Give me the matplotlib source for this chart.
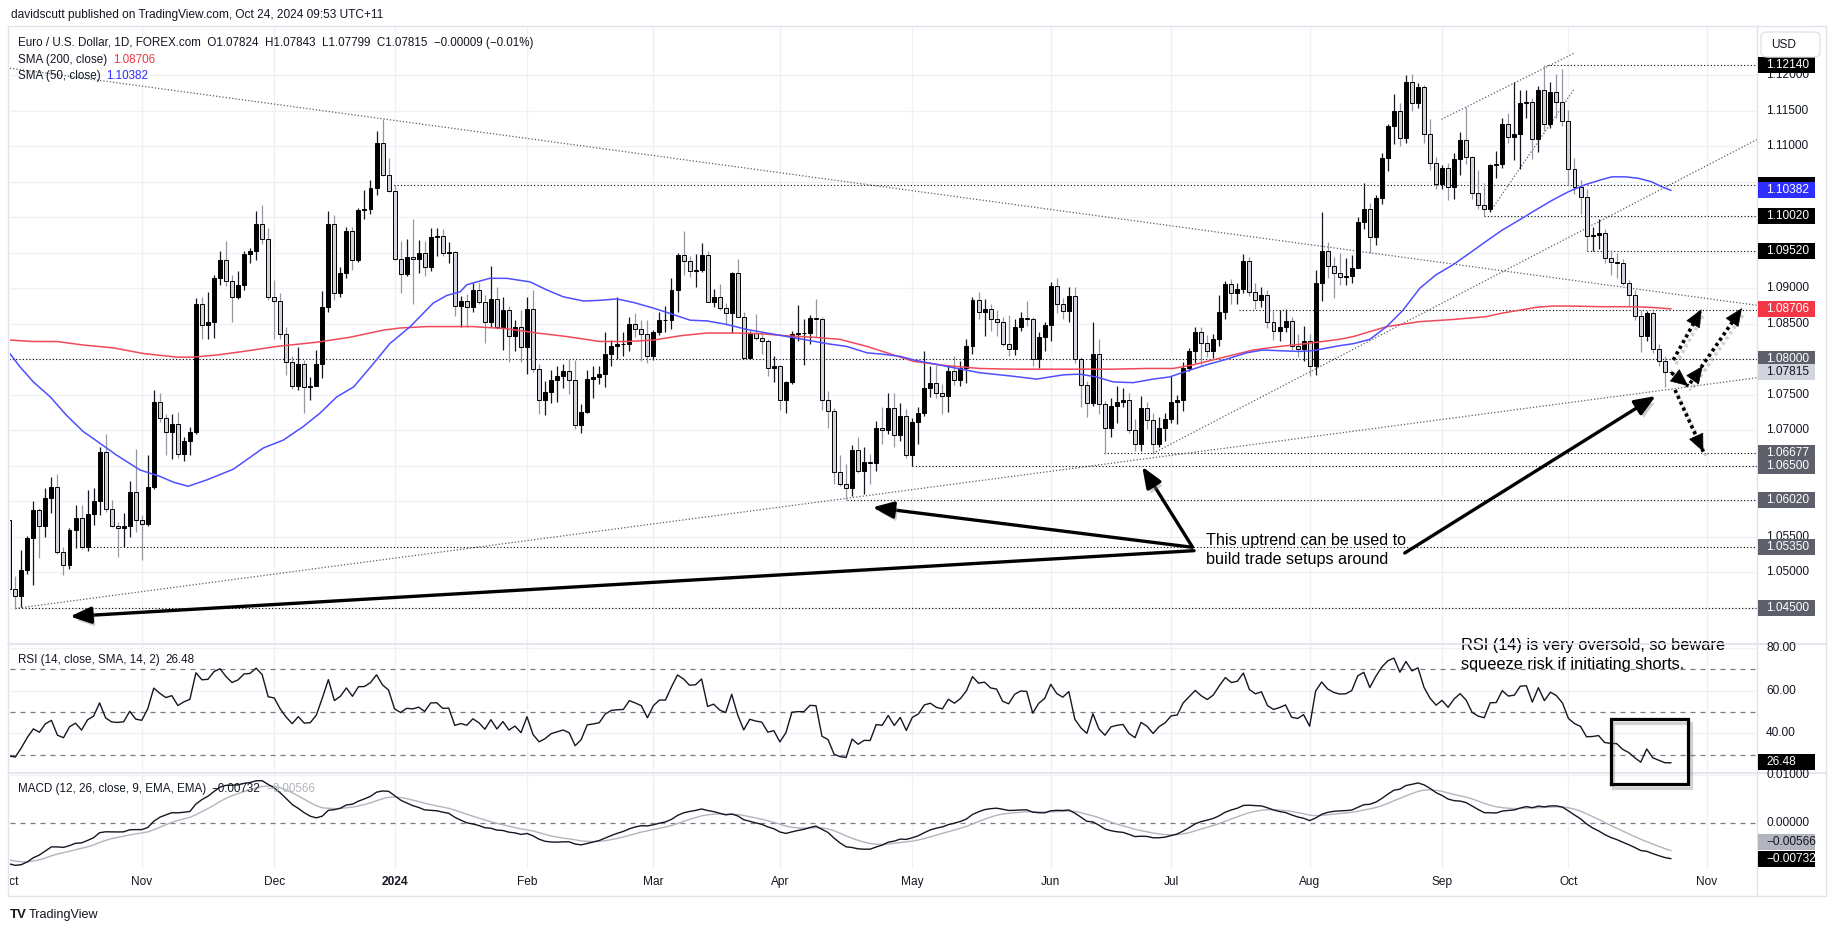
import numpy as np
import pandas as pd
import matplotlib
matplotlib.use("Agg")
import matplotlib.pyplot as plt
from matplotlib.patches import Rectangle, FancyBboxPatch
from matplotlib.lines import Line2D
from matplotlib import patheffects as pe
from matplotlib import transforms as mtrans

plt.rcParams['font.family'] = ['Liberation Sans', 'DejaVu Sans']

# ------------------------------------------------------------------ data
FIRST_DAY = '2023-10-02'
HOLIDAYS = ['2023-12-25', '2024-01-01']

OPEN = [
 1.0573,1.0476,1.0466,1.0503,1.0548,1.0587,1.0565,1.0604,1.0620,1.0528,1.0510,1.0559,1.0576,1.0535,1.0582,1.0600,1.0669,1.0589,1.0565,1.0562,1.0565,1.0613,
 1.0574,1.0568,1.0620,1.0740,1.0717,1.0698,1.0709,1.0666,1.0685,1.0698,1.0878,1.0848,1.0852,1.0914,1.0940,1.0910,1.0887,1.0905,1.0948,1.0952,1.0991,1.0970,
 1.0887,1.0882,1.0835,1.0796,1.0763,1.0793,1.0761,1.0763,1.0793,1.0873,1.0991,1.0893,1.0922,1.0981,1.0940,1.1010,1.1012,1.1041,1.1104,1.1060,
 1.1037,1.0941,1.0920,1.0944,1.0941,1.0950,1.0930,1.0972,1.0973,1.0950,1.0951,1.0875,1.0882,1.0874,1.0897,1.0881,1.0853,1.0885,1.0845,1.0870,1.0833,1.0846,
 1.0817,1.0871,1.0786,1.0743,1.0754,1.0771,1.0777,1.0783,1.0771,1.0707,1.0725,1.0772,1.0775,1.0779,1.0807,1.0819,1.0821,1.0822,1.0849,1.0843,1.0836,
 1.0804,1.0838,1.0855,1.0855,1.0898,1.0947,1.0938,1.0924,1.0926,1.0947,1.0881,1.0888,1.0872,1.0865,1.0922,1.0860,1.0802,1.0837,1.0830,1.0826,1.0787,
 1.0791,1.0743,1.0768,1.0835,1.0837,1.0837,1.0858,1.0857,1.0743,1.0727,1.0641,1.0624,1.0618,1.0672,1.0643,1.0655,1.0654,1.0703,1.0700,1.0732,1.0693,1.0720,
 1.0665,1.0711,1.0724,1.0760,1.0767,1.0753,1.0748,1.0783,1.0771,1.0788,1.0818,1.0884,1.0866,1.0871,1.0856,1.0853,1.0821,1.0814,1.0846,1.0858,1.0857,1.0800,1.0831,
 1.0848,1.0903,1.0878,1.0868,1.0889,1.0800,1.0764,1.0739,1.0808,1.0737,1.0703,1.0734,1.0740,1.0743,1.0701,1.0680,1.0732,1.0714,1.0680,1.0703,
 1.0716,1.0740,1.0743,1.0787,1.0812,1.0839,1.0823,1.0812,1.0829,1.0867,1.0906,1.0893,1.0899,1.0938,1.0895,1.0883,1.0891,1.0852,1.0840,1.0846,1.0854,1.0819,1.0815,
 1.0825,1.0791,1.0908,1.0952,1.0931,1.0921,1.0916,1.0917,1.0929,1.0993,1.1011,1.0972,1.1027,1.1084,1.1129,1.1150,1.1111,1.1190,1.1161,1.1183,1.1118,1.1076,
 1.1047,1.1070,1.1042,1.1082,1.1109,1.1085,1.1034,1.1018,1.1011,1.1074,1.1075,1.1132,1.1113,1.1117,1.1161,1.1163,1.1110,1.1180,1.1132,1.1176,1.1163,
 1.1135,1.1068,1.1043,1.1029,1.0974,1.0975,1.0978,1.0942,1.0937,1.0936,1.0907,1.0890,1.0861,1.0833,1.0865,1.0814,1.0798,1.07824]

HIGH = [
 1.0577,1.0494,1.0531,1.0551,1.0600,1.0590,1.0618,1.0634,1.0639,1.0535,1.0562,1.0595,1.0595,1.0616,1.0618,1.0677,1.0694,1.0602,1.0570,1.0583,1.0628,1.0673,
 1.0580,1.0665,1.0757,1.0753,1.0723,1.0723,1.0725,1.0690,1.0705,1.0886,1.0888,1.0895,1.0918,1.0952,1.0966,1.0918,1.0925,1.0952,1.0957,1.1009,1.1017,1.0985,
 1.0912,1.0893,1.0845,1.0805,1.0817,1.0799,1.0775,1.0813,1.0896,1.1009,1.1003,1.0930,1.0987,1.0987,1.1013,1.1039,1.1053,1.1122,1.1139,1.1084,
 1.1046,1.0966,1.0969,1.0997,1.0968,1.0966,1.0985,1.0985,1.0983,1.0965,1.0953,1.0889,1.0892,1.0908,1.0908,1.0890,1.0931,1.0902,1.0887,1.0875,1.0855,1.0870,
 1.0888,1.0897,1.0793,1.0769,1.0785,1.0790,1.0793,1.0800,1.0799,1.0737,1.0785,1.0790,1.0790,1.0838,1.0827,1.0887,1.0838,1.0860,1.0865,1.0855,1.0855,
 1.0841,1.0867,1.0875,1.0914,1.0949,1.0981,1.0945,1.0948,1.0964,1.0953,1.0899,1.0906,1.0879,1.0923,1.0941,1.0867,1.0840,1.0864,1.0839,1.0829,1.0805,
 1.0792,1.0769,1.0840,1.0876,1.0856,1.0862,1.0885,1.0859,1.0755,1.0731,1.0665,1.0653,1.0679,1.0690,1.0676,1.0667,1.0713,1.0733,1.0753,1.0753,1.0738,1.0730,
 1.0717,1.0733,1.0812,1.0790,1.0792,1.0765,1.0790,1.0805,1.0798,1.0828,1.0887,1.0895,1.0885,1.0878,1.0869,1.0859,1.0863,1.0857,1.0867,1.0882,1.0860,1.0838,1.0852,
 1.0909,1.0915,1.0886,1.0902,1.0902,1.0803,1.0770,1.0852,1.0828,1.0741,1.0746,1.0762,1.0760,1.0753,1.0716,1.0748,1.0740,1.0724,1.0718,1.0724,
 1.0776,1.0750,1.0796,1.0816,1.0845,1.0846,1.0834,1.0836,1.0890,1.0910,1.0913,1.0907,1.0948,1.0944,1.0907,1.0902,1.0897,1.0870,1.0869,1.0871,1.0860,1.0835,1.0847,
 1.0835,1.0926,1.1008,1.0965,1.0944,1.0949,1.0942,1.0947,1.1000,1.1048,1.1020,1.1032,1.1090,1.1131,1.1173,1.1161,1.1201,1.1202,1.1189,1.1186,1.1139,1.1085,
 1.1073,1.1076,1.1090,1.1120,1.1155,1.1087,1.1066,1.1048,1.1075,1.1093,1.1140,1.1147,1.1190,1.1180,1.1180,1.1168,1.1185,1.1214,1.1191,1.1202,1.1209,
 1.1151,1.1083,1.1053,1.1040,1.0987,1.0998,1.0984,1.0954,1.0950,1.0941,1.0912,1.0898,1.0869,1.0868,1.0868,1.0822,1.0805,1.07843]

LOW = [
 1.0469,1.0448,1.0451,1.0497,1.0482,1.0520,1.0550,1.0583,1.0525,1.0496,1.0505,1.0534,1.0533,1.0530,1.0567,1.0581,1.0585,1.0564,1.0522,1.0536,1.0550,1.0557,
 1.0517,1.0565,1.0617,1.0712,1.0665,1.0660,1.0661,1.0656,1.0665,1.0695,1.0828,1.0828,1.0830,1.0905,1.0903,1.0852,1.0885,1.0898,1.0935,1.0940,1.0963,1.0884,
 1.0828,1.0829,1.0778,1.0758,1.0757,1.0724,1.0743,1.0762,1.0773,1.0866,1.0883,1.0888,1.0915,1.0926,1.0937,1.0998,1.1005,1.1032,1.1058,1.1035,
 1.0940,1.0893,1.0917,1.0878,1.0922,1.0917,1.0925,1.0946,1.0946,1.0935,1.0861,1.0846,1.0846,1.0866,1.0878,1.0823,1.0846,1.0843,1.0813,1.0796,1.0811,1.0796,
 1.0779,1.0782,1.0723,1.0722,1.0738,1.0740,1.0759,1.0751,1.0702,1.0696,1.0724,1.0745,1.0765,1.0761,1.0790,1.0801,1.0804,1.0812,1.0831,1.0797,1.0795,
 1.0799,1.0834,1.0838,1.0842,1.0867,1.0918,1.0916,1.0902,1.0923,1.0880,1.0874,1.0869,1.0848,1.0837,1.0859,1.0800,1.0800,1.0827,1.0808,1.0776,1.0768,
 1.0729,1.0724,1.0765,1.0825,1.0792,1.0822,1.0832,1.0729,1.0703,1.0624,1.0622,1.0602,1.0607,1.0640,1.0610,1.0624,1.0642,1.0680,1.0695,1.0676,1.0685,1.0661,
 1.0650,1.0680,1.0720,1.0747,1.0746,1.0723,1.0725,1.0764,1.0763,1.0766,1.0808,1.0856,1.0833,1.0840,1.0833,1.0818,1.0805,1.0806,1.0840,1.0847,1.0790,1.0788,1.0811,
 1.0826,1.0865,1.0856,1.0853,1.0795,1.0733,1.0718,1.0734,1.0723,1.0667,1.0690,1.0710,1.0733,1.0696,1.0671,1.0671,1.0702,1.0667,1.0676,1.0685,
 1.0710,1.0709,1.0727,1.0783,1.0795,1.0792,1.0803,1.0802,1.0818,1.0856,1.0878,1.0878,1.0893,1.0889,1.0871,1.0874,1.0844,1.0827,1.0826,1.0838,1.0813,1.0803,1.0798,
 1.0777,1.0778,1.0882,1.0914,1.0886,1.0904,1.0904,1.0907,1.0928,1.0983,1.0950,1.0961,1.1019,1.1065,1.1103,1.1100,1.1105,1.1150,1.1154,1.1104,1.1066,1.1040,
 1.1040,1.1025,1.1026,1.1060,1.1075,1.1026,1.1012,1.1002,1.1007,1.1055,1.1070,1.1105,1.1080,1.1068,1.1140,1.1082,1.1092,1.1121,1.1126,1.1140,1.1128,
 1.1046,1.1033,1.1005,1.0952,1.0952,1.0956,1.0935,1.0918,1.0915,1.0904,1.0874,1.0855,1.0810,1.0825,1.0809,1.0791,1.0761,1.07799]

CLOSE = [
 1.0476,1.0466,1.0503,1.0548,1.0587,1.0565,1.0604,1.0620,1.0528,1.0510,1.0559,1.0576,1.0535,1.0582,1.0600,1.0669,1.0589,1.0565,1.0562,1.0565,1.0613,1.0574,
 1.0568,1.0620,1.0740,1.0717,1.0698,1.0709,1.0666,1.0685,1.0698,1.0878,1.0848,1.0852,1.0914,1.0940,1.0910,1.0887,1.0905,1.0948,1.0952,1.0991,1.0970,1.0887,
 1.0882,1.0835,1.0796,1.0763,1.0793,1.0761,1.0763,1.0793,1.0873,1.0991,1.0893,1.0922,1.0981,1.0940,1.1010,1.1012,1.1041,1.1104,1.1060,1.1037,
 1.0941,1.0920,1.0944,1.0941,1.0950,1.0930,1.0972,1.0973,1.0950,1.0951,1.0875,1.0882,1.0874,1.0897,1.0881,1.0853,1.0885,1.0845,1.0870,1.0833,1.0846,1.0817,
 1.0871,1.0786,1.0743,1.0754,1.0771,1.0777,1.0783,1.0771,1.0707,1.0725,1.0772,1.0775,1.0779,1.0807,1.0819,1.0821,1.0822,1.0849,1.0843,1.0836,1.0804,
 1.0838,1.0855,1.0855,1.0898,1.0947,1.0938,1.0924,1.0926,1.0947,1.0881,1.0888,1.0872,1.0865,1.0922,1.0860,1.0802,1.0837,1.0830,1.0826,1.0787,1.0791,
 1.0743,1.0768,1.0835,1.0837,1.0837,1.0858,1.0857,1.0743,1.0727,1.0641,1.0624,1.0618,1.0672,1.0643,1.0655,1.0654,1.0703,1.0700,1.0732,1.0693,1.0720,1.0665,
 1.0711,1.0724,1.0760,1.0767,1.0753,1.0748,1.0783,1.0771,1.0788,1.0818,1.0884,1.0866,1.0871,1.0856,1.0853,1.0821,1.0814,1.0846,1.0858,1.0857,1.0800,1.0831,1.0848,
 1.0903,1.0878,1.0868,1.0889,1.0800,1.0764,1.0739,1.0808,1.0737,1.0703,1.0734,1.0740,1.0743,1.0701,1.0680,1.0732,1.0714,1.0680,1.0703,1.0716,
 1.0740,1.0743,1.0787,1.0812,1.0839,1.0823,1.0812,1.0829,1.0867,1.0906,1.0893,1.0899,1.0938,1.0895,1.0883,1.0891,1.0852,1.0840,1.0846,1.0854,1.0819,1.0815,1.0825,
 1.0791,1.0908,1.0952,1.0931,1.0921,1.0916,1.0917,1.0929,1.0993,1.1011,1.0972,1.1027,1.1084,1.1129,1.1150,1.1111,1.1190,1.1161,1.1183,1.1118,1.1076,1.1047,
 1.1070,1.1042,1.1082,1.1109,1.1085,1.1034,1.1018,1.1011,1.1074,1.1075,1.1132,1.1113,1.1117,1.1161,1.1163,1.1110,1.1180,1.1132,1.1176,1.1163,1.1135,
 1.1068,1.1043,1.1029,1.0974,1.0975,1.0978,1.0942,1.0937,1.0936,1.0907,1.0890,1.0861,1.0833,1.0865,1.0814,1.0798,1.0782,1.07815]

# moving averages (bar index, value)
SMA50_AT = [0.1,1.8,4.0,6.8,9.5,12.3,14.0,17.8,21.7,25.0,27.2,29.7,32.8,37.2,42.2,45.5,48.8,51.6,54.4,57.2,60.5,63.2,66.6,70.4,72.7,
            74.9,76.0,79.8,82.6,86.5,89.2,92.0,95.4,98.1,100.9,103.7,107.0,110.3,113.1,115.9,119.2,122.5,125.8,129.2,132.5,135.8,139.1,142.5,145.2,148.0,
            150.2,155.7,161.2,166.8,170.6,175.1,177.8,180.6,183.4,186.7,190.0,192.7,195.5,198.8,202.2,205.5,208.2,211.0,214.3,216.5,220.9,223.3,226.0,228.8,231.5,
            234.3,237.0,239.8,242.5,245.3,248.0,250.8,253.5,256.3,259.0,261.8,264.5,266.2,268.4,270.6,272.8,274.5,276.0]
SMA50 = [1.0808,1.0789,1.0768,1.0747,1.0721,1.0698,1.0688,1.0665,1.0644,1.0635,1.0627,1.0621,1.0630,1.0645,1.0675,1.0686,1.0705,1.0724,1.0747,1.0761,1.0794,1.0822,1.0846,1.0879,1.0890,
         1.0895,1.0905,1.0914,1.0914,1.0909,1.0898,1.0888,1.0882,1.0883,1.0885,1.0880,1.0872,1.0863,1.0855,1.0854,1.0849,1.0842,1.0837,1.0832,1.0827,1.0822,1.0818,1.0809,1.0807,1.0804,
         1.0799,1.0790,1.0781,1.0776,1.0772,1.0778,1.0779,1.0775,1.0768,1.0767,1.0772,1.0775,1.0783,1.0792,1.0800,1.0809,1.0813,1.0812,1.0811,1.0812,1.0819,1.0822,1.0828,1.0846,1.0869,
         1.0900,1.0919,1.0933,1.0949,1.0966,1.0982,1.0996,1.1010,1.1024,1.1036,1.1046,1.1053,1.1057,1.1057,1.1055,1.1050,1.1043,1.1038]
SMA200_AT = [0.1,4.0,7.9,12.3,17.3,22.3,27.8,30.6,34.5,38.9,44.4,51.1,56.6,62.1,64.9,69.3,74.9,77.0,82.6,87.6,92.6,98.1,102.6,107.0,111.4,
             115.9,120.3,124.7,129.2,133.6,138.0,142.5,145.8,150.2,155.7,161.2,166.8,172.3,177.8,183.4,188.9,193.3,196.6,199.9,203.3,206.6,211.0,215.4,220.9,223.3,
             228.8,234.3,239.8,245.3,248.0,250.8,253.5,256.3,259.0,264.5,270.1,272.8,276.0]
SMA200 = [1.0827,1.0825,1.0825,1.0820,1.0816,1.0808,1.0803,1.0803,1.0806,1.0811,1.0818,1.0824,1.0831,1.0841,1.0844,1.0846,1.0846,1.0846,1.0843,1.0837,1.0832,1.0825,1.0825,1.0827,1.0833,
          1.0837,1.0837,1.0836,1.0833,1.0831,1.0828,1.0818,1.0809,1.0797,1.0791,1.0787,1.0786,1.0786,1.0786,1.0786,1.0787,1.0787,1.0792,1.0799,1.0806,1.0813,1.0818,1.0822,1.0828,1.0832,
          1.0846,1.0853,1.0856,1.0860,1.0865,1.0869,1.0873,1.0875,1.0875,1.0874,1.0874,1.0873,1.0871]

RSI_SEED_GAIN, RSI_SEED_LOSS = 0.00137, 0.0033
EMA12_SEED, EMA26_SEED, SIGNAL_SEED = 1.0583, 1.0667, -0.0076

# labels / levels
MONTH_LABELS = ['Oct', 'Nov', 'Dec', '2024', 'Feb', 'Mar', 'Apr', 'May', 'Jun', 'Jul', 'Aug', 'Sep', 'Oct', 'Nov']
PRICE_TICKS = [1.045, 1.050, 1.055, 1.060, 1.065, 1.070, 1.075, 1.080, 1.085, 1.090, 1.095,
               1.100, 1.105, 1.110, 1.115, 1.120]
RSI_TICKS = [40, 60, 80]
MACD_TICKS = [0.0, 0.01]
LEVELS = [1.1214, 1.1045, 1.1002, 1.0952, 1.0870, 1.0800, 1.06677, 1.0650, 1.0602, 1.0535, 1.0450]
LEVEL_FROM = [255.4, 62.7, 245.0, 262.0, 204.2, 0.0, 181.9, 150.0, 139.1, 11.8, 1.0]
BOX_VALUES = [1.1214, 1.1045, 1.10382, 1.1002, 1.0952, 1.08706, 1.0800, 1.07815, 1.06677, 1.0650, 1.0602, 1.0535, 1.0450]
BOX_TEXT = ['1.12140', '', '1.10382', '1.10020', '1.09520', '1.08706', '1.08000', '1.07815',
            '1.06677', '1.06500', '1.06020', '1.05350', '1.04500']
BOX_KIND = ['k', 'k', 'blue', 'k', 'k', 'red', 'g', 'last', 'g', 'g', 'g', 'g', 'g']
RSI_LAST, MACD_LAST, SIGNAL_LAST = 26.48, -0.00732, -0.00566

# drawings (bar index, price)
TREND_LINES = [((0.1, 1.1210), (290.3, 1.0876)),
               ((1.0, 1.0449), (290.3, 1.07739)),
               ((190.0, 1.06675), (290.3, 1.11095)),
               ((237.9, 1.1138), (259.9, 1.1231)),
               ((246.0, 1.1008), (259.9, 1.1180))]
SOLID_ARROWS = [((196.5, 1.05351), (143.4, 1.05914)),
                ((196.5, 1.05360), (188.2, 1.06486)),
                ((196.8, 1.05303), (10.1, 1.04376)),
                ((231.8, 1.05270), (273.5, 1.07482))]
DOTTED_ARROWS = [((276.1, 1.07810), (278.9, 1.07623)),
                 ((276.4, 1.07989), (281.1, 1.08704)),
                 ((279.2, 1.07661), (287.8, 1.08718)),
                 ((276.7, 1.07567), (281.4, 1.06697))]
DOTTED_MID_HEADS = [((279.2, 1.07661), (281.3, 1.07905))]
NOTE_MAIN = ['This uptrend can be used to', 'build trade setups around']
NOTE_MAIN_POS = [(198.8, 1.05441), (198.8, 1.05174)]
NOTE_RSI = ['RSI (14) is very oversold, so beware', 'squeeze risk if initiating shorts.']
NOTE_RSI_POS = [(241.1, 81.0), (241.1, 72.1)]
RSI_BOX = (266.0, 16.2, 278.9, 46.6)

# ------------------------------------------------------------------ checks
if len({len(OPEN), len(HIGH), len(LOW), len(CLOSE)}) != 1:
    raise SystemExit(f"length mismatch {len(OPEN)} {len(HIGH)} {len(LOW)} {len(CLOSE)}")

O = np.array(OPEN); Hh = np.array(HIGH); Lw = np.array(LOW); C = np.array(CLOSE)
n = len(C)
idx = np.arange(n)

days = pd.bdate_range(FIRST_DAY, periods=300)
days = days[~days.isin(pd.to_datetime(HOLIDAYS))]
month_start = [k for k in range(len(days)) if k == 0 or days[k].month != days[k - 1].month]

# indicators
ag, al = RSI_SEED_GAIN, RSI_SEED_LOSS
e12, e26, sg = EMA12_SEED, EMA26_SEED, SIGNAL_SEED
rsi, macd, sig = [], [], []
for k in range(n):
    if k > 0:
        ch = C[k] - C[k - 1]
        ag = (ag * 13 + max(ch, 0)) / 14
        al = (al * 13 + max(-ch, 0)) / 14
        e12 += (C[k] - e12) * 2 / 13
        e26 += (C[k] - e26) * 2 / 27
        sg += ((e12 - e26) - sg) * 2 / 10
    rsi.append(100 - 100 / (1 + ag / al))
    macd.append(e12 - e26)
    sig.append(sg)

# ------------------------------------------------------------------ layout (pixels)
W, Hpx = 1835, 931
PL, PR = 10, 1757
MAIN_T, MAIN_B = 26, 643
RSI_T, RSI_B = 644, 773
MACD_T, MACD_B = 773, 869
AX_B = 896
X0, DX = 9.3, 6.02
P_REF, P_REF_Y, P_SCALE = 1.11, 146.3, 7098.0
R_REF, R_REF_Y, R_SCALE = 70.0, 669.4, 2.13
M_REF_Y, M_SCALE = 823.3, 4830.0

XLIM = ((PL - X0) / DX, (PR - X0) / DX)
MAIN_YLIM = (P_REF - (MAIN_B - P_REF_Y) / P_SCALE, P_REF + (P_REF_Y - MAIN_T) / P_SCALE)
RSI_YLIM = (R_REF - (RSI_B - R_REF_Y) / R_SCALE, R_REF + (R_REF_Y - RSI_T) / R_SCALE)
MACD_YLIM = (-(MACD_B - M_REF_Y) / M_SCALE, (M_REF_Y - MACD_T) / M_SCALE)

TXT = '#131722'
GRID = '#eff1f5'
fig = plt.figure(figsize=(W / 100, Hpx / 100), dpi=100, facecolor='white')
R = fig.canvas.get_renderer()


def px_ax(t, b):
    a = fig.add_axes([PL / W, 1 - b / Hpx, (PR - PL) / W, (b - t) / Hpx])
    a.set_axis_off()
    a.set_xlim(*XLIM)
    return a


ax = px_ax(MAIN_T, MAIN_B); ax.set_ylim(*MAIN_YLIM)
rax = px_ax(RSI_T, RSI_B); rax.set_ylim(*RSI_YLIM)
max_ = px_ax(MACD_T, MACD_B); max_.set_ylim(*MACD_YLIM)
tax = px_ax(MACD_B, AX_B); tax.set_ylim(0, 1)


def fig_line(xs, ys, **kw):
    fig.add_artist(Line2D([x / W for x in xs], [1 - y / Hpx for y in ys], transform=fig.transFigure, **kw))


def ptxt(x, y, s, **kw):
    return fig.text(x / W, 1 - y / Hpx, s, **kw)


def text_w(s, fs, **kw):
    t = fig.text(0, 0, s, fontsize=fs, **kw)
    w = t.get_window_extent(R).width
    t.remove()
    return w


def fit(s, target, **kw):
    return 10.0 * target / text_w(s, 10.0, **kw)


# frame
fig_line([8, 1826, 1826, 8, 8], [26, 26, AX_B, AX_B, 26], color='#e0e3eb', lw=1)
fig_line([PR, PR], [26, AX_B], color='#e0e3eb', lw=1)
fig_line([8, 1826], [643.5, 643.5], color='#e0e3eb', lw=1.2)
fig_line([8, 1826], [773, 773], color='#e0e3eb', lw=1.2)

# grids
for a in (ax, rax, max_):
    for k in month_start:
        a.axvline(k, color=GRID, lw=1, zorder=0.5)
for p in PRICE_TICKS:
    ax.axhline(p, color=GRID, lw=1, zorder=0.5)
for v in RSI_TICKS:
    rax.axhline(v, color=GRID, lw=1, zorder=0.5)
max_.axhline(0.01, color=GRID, lw=1, zorder=0.5)

# levels
for lv, st in zip(LEVELS, LEVEL_FROM):
    ax.plot([st, XLIM[1]], [lv, lv], color='black', lw=0.8, linestyle=(0, (1, 2)), zorder=1.5)
# trend lines
for (a0, a1) in TREND_LINES:
    ax.plot([a0[0], a1[0]], [a0[1], a1[1]], color='#5a5e69', lw=0.9, linestyle=(0, (1, 1.6)), zorder=1.6)

# candles
up = C >= O
bot = np.minimum(O, C)
hgt = np.maximum(np.abs(C - O), 0.00002)
ax.vlines(idx[up], Lw[up], Hh[up], color='#131722', lw=0.9, zorder=3)
ax.vlines(idx[~up], Lw[~up], Hh[~up], color='#9598a1', lw=0.9, zorder=3)
ax.bar(idx[up], hgt[up], bottom=bot[up], width=0.66, color='#000000', edgecolor='#000000', lw=0.7, zorder=4)
ax.bar(idx[~up], hgt[~up], bottom=bot[~up], width=0.66, color='#d1d4dc', edgecolor='#000000', lw=0.7, zorder=4)

# moving averages
ax.plot(SMA200_AT, SMA200, color='#f04a5a', lw=1.1, zorder=5)
ax.plot(SMA50_AT, SMA50, color='#4f4fff', lw=1.1, zorder=5)

# arrows
pshadow = [pe.SimplePatchShadow(offset=(2, -3), shadow_rgbFace='#808080', alpha=0.4), pe.Normal()]
lshadow = [pe.SimpleLineShadow(offset=(2, -3), shadow_color='#808080', alpha=0.35), pe.Normal()]
for (t0, t1) in SOLID_ARROWS:
    ax.annotate('', xy=t1, xytext=t0, annotation_clip=False,
                arrowprops=dict(arrowstyle='-|>,head_length=0.9,head_width=0.36', color='black', lw=2.4,
                                mutation_scale=14, shrinkA=0, shrinkB=0, path_effects=pshadow), zorder=12)


def head(a0, a1):
    xt = (a1[0] - 0.05 * (a1[0] - a0[0]), a1[1] - 0.05 * (a1[1] - a0[1]))
    ax.annotate('', xy=a1, xytext=xt, annotation_clip=False,
                arrowprops=dict(arrowstyle='-|>,head_length=0.9,head_width=0.4', color='black', lw=0.5,
                                mutation_scale=13, shrinkA=0, shrinkB=0), zorder=13)


for (a0, a1) in DOTTED_ARROWS:
    ax.plot([a0[0], a1[0]], [a0[1], a1[1]], color='black', lw=2.6, linestyle=(0, (0.9, 0.9)),
            dash_capstyle='butt', zorder=12, path_effects=lshadow, clip_on=False)
    head(a0, a1)
for (a0, a1) in DOTTED_MID_HEADS:
    head(a0, a1)

# main annotation
fs_note = fit(NOTE_MAIN[1], 183)
for s, (xi, yp) in zip(NOTE_MAIN, NOTE_MAIN_POS):
    ax.text(xi, yp, s, fontsize=fs_note, color='black', va='center', ha='left', zorder=14)

# RSI pane
rax.plot(idx, rsi, color='#131722', lw=1.0, zorder=3)
for v in (30, 50, 70):
    rax.axhline(v, color='#787b86', lw=0.9, linestyle=(0, (4, 4)), zorder=1)
fs_rnote = fit(NOTE_RSI[0], 265)
for s, (xi, yp) in zip(NOTE_RSI, NOTE_RSI_POS):
    rax.text(xi, yp, s, fontsize=fs_rnote, color='black', va='center', ha='left', zorder=14, clip_on=False)
bx0, by0, bx1, by1 = RSI_BOX
box = Line2D([bx0, bx1, bx1, bx0, bx0], [by0, by0, by1, by1, by0], transform=rax.transData,
             color='black', lw=2.3, solid_joinstyle='miter', zorder=20, path_effects=lshadow)
fig.add_artist(box)

# MACD pane
max_.plot(idx, sig, color='#b2b5be', lw=1.0, zorder=3)
max_.plot(idx, macd, color='#131722', lw=1.0, zorder=4)
max_.axhline(0, color='#787b86', lw=0.9, linestyle=(0, (4, 4)), zorder=1)

# time axis labels
fs_tick = fit('1.11500', 42)
for k, lab in zip(month_start, MONTH_LABELS):
    tax.text(k, 0.52, lab, transform=mtrans.blended_transform_factory(tax.transData, tax.transAxes),
             ha='center', va='center', fontsize=fs_tick, color=TXT,
             fontweight='bold' if lab.isdigit() else 'normal', clip_on=True)

# right axis labels
TX = 1766
BX0, BX1, BH = 1758, 1815, 16


def axis_text(a, val, s, color=TXT, z=10, dy=0):
    tr = mtrans.blended_transform_factory(fig.transFigure, a.transData)
    off = mtrans.ScaledTranslation(0, -dy / 100, fig.dpi_scale_trans)
    return fig.text(TX / W, val, s, transform=tr + off, fontsize=fs_tick, color=color, va='center', ha='left', zorder=z)


def axis_box(a, val, s, fc, tc, z, dy=0):
    tr = mtrans.blended_transform_factory(fig.transFigure, a.transData)
    off = mtrans.ScaledTranslation(0, -dy / 100, fig.dpi_scale_trans)
    y0, y1 = a.get_ylim()
    _, b0 = a.transAxes.transform((0, 0))
    _, b1 = a.transAxes.transform((0, 1))
    upp = (y1 - y0) / (b1 - b0)
    fig.add_artist(Rectangle((BX0 / W, val - BH / 2 * upp), (BX1 - BX0) / W, BH * upp, transform=tr + off,
                             facecolor=fc, edgecolor='none', zorder=z))
    if s:
        axis_text(a, val, s, color=tc, z=z + 0.5, dy=dy)


# plain ticks, except those fully hidden behind a value box
for p in PRICE_TICKS:
    if MAIN_YLIM[0] < p < MAIN_YLIM[1] and min(abs(p - b) for b in BOX_VALUES) * P_SCALE > 6:
        axis_text(ax, p, f'{p:.5f}', z=8)
kinds = {'k': ('#000000', 'white'), 'blue': ('#2e2eff', 'white'), 'red': ('#f23645', 'white'),
         'g': ('#5d606b', 'white'), 'last': ('#d1d4dc', TXT)}
for j, (v, s, kd) in enumerate(zip(BOX_VALUES, BOX_TEXT, BOX_KIND)):
    fc, tc = kinds[kd]
    axis_box(ax, v, s, fc, tc, z=11 + j * 0.01 + (0.5 if kd == 'last' else 0))

for v in RSI_TICKS:
    axis_text(rax, v, f'{v:.2f}', z=8)
axis_box(rax, RSI_LAST, f'{RSI_LAST:.2f}', '#000000', 'white', z=11)
for v in MACD_TICKS:
    axis_text(max_, v, f'{v:.5f}', z=8)
dy_px = (SIGNAL_LAST - MACD_LAST) * M_SCALE
shift = -(BH + 1 - dy_px) if dy_px < BH + 1 else 0
axis_box(max_, SIGNAL_LAST, f'\u2212{abs(SIGNAL_LAST):.5f}', '#b2b5be', TXT, z=11, dy=shift)
axis_box(max_, MACD_LAST, f'\u2212{abs(MACD_LAST):.5f}', '#000000', 'white', z=11.2)

# USD box
fig.add_artist(FancyBboxPatch((1761 / W, 1 - 57 / Hpx), 59 / W, 25 / Hpx, boxstyle='round,pad=0,rounding_size=0.004',
                              transform=fig.transFigure, facecolor='white', edgecolor='#e0e3eb', lw=1, zorder=15))
ptxt(1771, 45, 'USD', fontsize=fs_tick, color=TXT, va='center', ha='left', zorder=16)

# header and legends
H1 = 'davidscutt published on TradingView.com, Oct 24, 2024 09:53 UTC+11'
ptxt(11, 15, H1, fontsize=fit(H1, 373), color=TXT, va='center', ha='left')
LEG = 'Euro / U.S. Dollar, 1D, FOREX.com  O1.07824  H1.07843  L1.07799  C1.07815  \u22120.00009 (\u22120.01%)'
fs_leg = fit(LEG, 516)
ptxt(18, 42.7, LEG, fontsize=fs_leg, color=TXT, va='center', ha='left', zorder=16)


def legend_pair(x, y, parts, fs, gap=6):
    for s, col in parts:
        ptxt(x, y, s, fontsize=fs, color=col, va='center', ha='left', zorder=16)
        x += text_w(s, fs) + gap


legend_pair(18, 60, [('SMA (200, close)', TXT), ('1.08706', '#f23645')], fs_leg)
legend_pair(18, 76, [('SMA (50, close)', TXT), ('1.10382', '#2e2eff')], fs_leg)
legend_pair(17.6, 660, [('RSI (14, close, SMA, 14, 2)', TXT), (f'{RSI_LAST:.2f}', TXT)], fs_leg)
legend_pair(17.6, 789, [('MACD (12, 26, close, 9, EMA, EMA)', TXT), (f'\u2212{abs(MACD_LAST):.5f}', TXT),
                        (f'\u2212{abs(SIGNAL_LAST):.5f}', '#b2b5be')], fs_leg)

# footer logo
ptxt(10, 915, 'TV', fontsize=fs_tick + 1, fontweight='bold', color=TXT, va='center', ha='left')
ptxt(29, 915, 'TradingView', fontsize=fs_tick + 0.5, color=TXT, va='center', ha='left')

fig.savefig('out.png', dpi=100, facecolor='white')
